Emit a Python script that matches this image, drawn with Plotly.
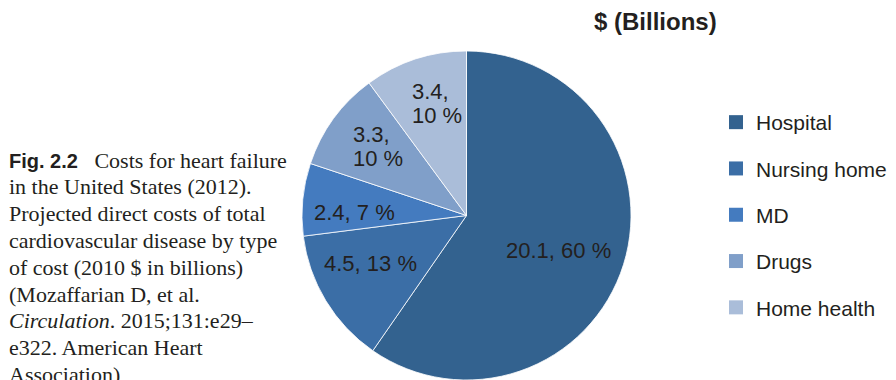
import math
import plotly.graph_objects as go

# Projected direct costs of heart failure by type of cost (2010 $, billions)
categories = ["Hospital", "Nursing home", "MD", "Drugs", "Home health"]
costs = [20.1, 4.5, 2.4, 3.3, 3.4]
colors = ["#33628f", "#3b6ea6", "#447bbf", "#809fc9", "#aabdd9"]
two_line_label = [False, False, False, True, True]
label_radius = [0.595, 0.654, 0.678, 0.694, 0.71]   # fraction of pie radius
label_angle_shift = [3.3, 5.0, -4.3, 1.4, 2.5]      # degrees from slice mid-angle

caption_lines = [
    '<span style="font-family:Liberation Sans, Arial, sans-serif;font-size:20px"><b>Fig. 2.2</b></span>&nbsp;&nbsp;&nbsp;Costs for heart failure',
    "in the United States (2012).",
    "Projected direct costs of total",
    "cardiovascular disease by type",
    "of cost (2010 $ in billions)",
    "(Mozaffarian D, et al.",
    "<i>Circulation</i>. 2015;131:e29–",
    "e322. American Heart",
    "Association)",
]

W, H = 896, 380
# pie placement in pixels
pie_left, pie_right, pie_top, pie_bottom = 302, 631, 51, 380
cx = (pie_left + pie_right) / 2
cy = (pie_top + pie_bottom) / 2
rad = (pie_right - pie_left) / 2

total = sum(costs)
pcts = [round(v / total * 100) for v in costs]

fig = go.Figure()

fig.add_trace(go.Pie(
    labels=categories,
    values=costs,
    textinfo="none",
    marker=dict(colors=colors, line=dict(color="#ffffff", width=0.8)),
    sort=False,
    direction="clockwise",
    rotation=0,
    showlegend=False,
    hoverinfo="label+value+percent",
    domain=dict(x=[pie_left / W, pie_right / W], y=[1 - pie_bottom / H, 1 - pie_top / H]),
))

# Legend entries: one square marker per category
for name, col in zip(categories, colors):
    fig.add_trace(go.Scatter(
        x=[None], y=[None], mode="markers", name=name, legendgroup=name,
        marker=dict(symbol="square", size=14, color=col),
        showlegend=True, hoverinfo="skip",
    ))

label_font = dict(family="Liberation Sans, Arial, sans-serif", size=22, color="#231f20")
annotations = [dict(
    text="<b>$ (Billions)</b>", x=592 / W, y=1 - 22 / H,
    xref="paper", yref="paper", xanchor="left", yanchor="middle",
    showarrow=False,
    font=dict(family="Liberation Sans, Arial, sans-serif", size=24, color="#231f20"),
)]

# Slice value labels, placed along each slice's angle
cum = 0.0
for v, p, wrap, fr, shift in zip(costs, pcts, two_line_label, label_radius, label_angle_shift):
    ang = math.radians((cum + v / 2) / total * 360 + shift)
    cum += v
    px = cx + fr * rad * math.sin(ang)
    py = cy - fr * rad * math.cos(ang)
    if wrap:
        block_half = 25
        for txt, dy in ((f"{v},", -12), (f"{p} %", 12)):
            annotations.append(dict(
                text=txt, x=(px - block_half) / W, y=1 - (py + dy) / H,
                xref="paper", yref="paper", xanchor="left", yanchor="middle",
                showarrow=False, font=label_font,
            ))
    else:
        annotations.append(dict(
            text=f"{v}, {p} %", x=px / W, y=1 - py / H,
            xref="paper", yref="paper", xanchor="center", yanchor="middle",
            showarrow=False, font=label_font,
        ))

line_top, line_step = 160, 26.8
for i, line in enumerate(caption_lines):
    annotations.append(dict(
        text=line, x=7 / W, y=1 - (line_top + i * line_step) / H,
        xref="paper", yref="paper", xanchor="left", yanchor="middle",
        showarrow=False, align="left",
        font=dict(family="Liberation Serif, Times New Roman, serif", size=22, color="#231f20"),
    ))

fig.update_layout(
    width=W, height=H,
    margin=dict(l=0, r=0, t=0, b=0),
    paper_bgcolor="white", plot_bgcolor="white",
    xaxis=dict(visible=False), yaxis=dict(visible=False),
    legend=dict(
        x=716 / W, y=1 - 102 / H, xanchor="left", yanchor="top",
        font=dict(family="Liberation Sans, Arial, sans-serif", size=21, color="#231f20"),
        tracegroupgap=16, traceorder="grouped",
        bgcolor="rgba(0,0,0,0)", borderwidth=0,
    ),
    annotations=annotations,
)

fig.write_html("out.html")
